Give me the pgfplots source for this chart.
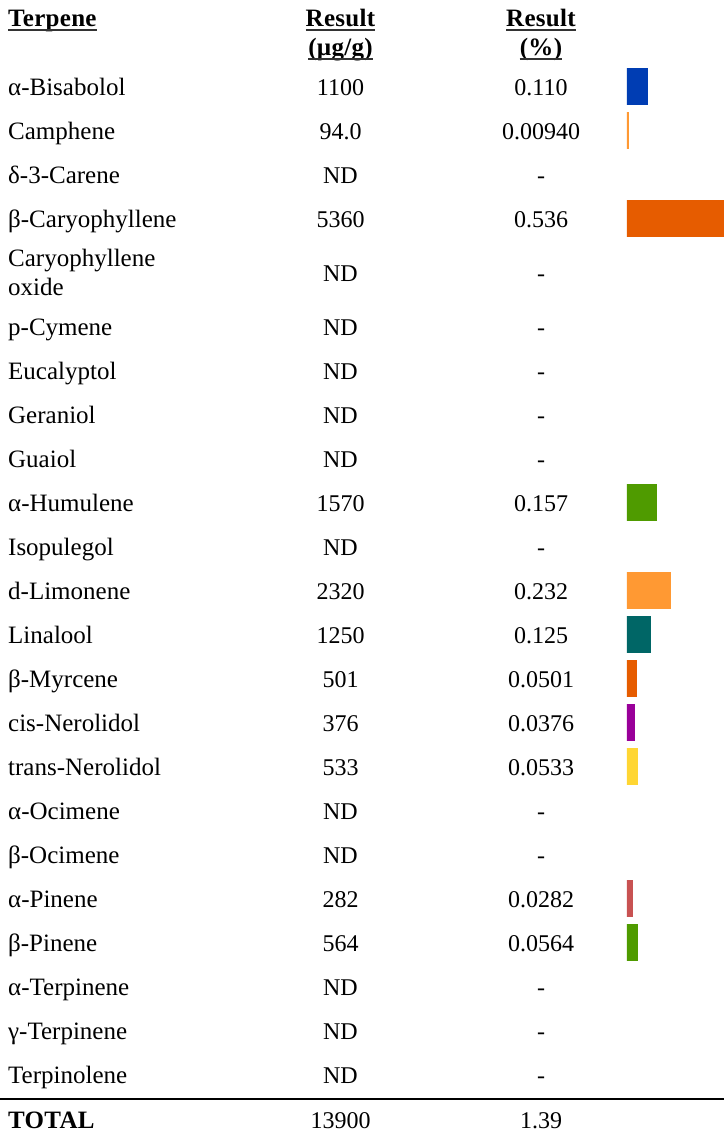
\documentclass[border=0pt]{standalone}
\usepackage{fontspec}
\setmainfont{Liberation Serif}
\newfontfamily\headfont[LetterSpace=1.2]{Liberation Serif}
\usepackage{pgfplots}
\pgfplotsset{compat=1.18}

\definecolor{cBlue}{RGB}{0,61,179}
\definecolor{cLtOrange}{RGB}{255,153,51}
\definecolor{cOrange}{RGB}{230,92,0}
\definecolor{cGreen}{RGB}{79,155,0}
\definecolor{cTeal}{RGB}{0,102,102}
\definecolor{cPurple}{RGB}{153,0,153}
\definecolor{cYellow}{RGB}{255,214,51}
\definecolor{cRed}{RGB}{200,82,82}

\newcommand{\tf}{\fontsize{24bp}{28bp}\selectfont}
\newcommand{\nf}{\fontsize{25bp}{28bp}\selectfont}

\begin{document}
\begin{tikzpicture}[x=1bp,y=-1bp]
  \path[use as bounding box] (0,0) rectangle (724,1132);

  % header
  \node[font=\nf\headfont\bfseries, anchor=base west, inner sep=0pt] (h1) at (8,26.7) {Terpene};
  \node[font=\nf\headfont\bfseries, anchor=base, inner sep=0pt] (h2) at (340.5,26.7) {Result};
  \node[font=\nf\headfont\bfseries, anchor=base, inner sep=0pt] (h3) at (340.5,55) {(µg/g)};
  \node[font=\nf\headfont\bfseries, anchor=base, inner sep=0pt] (h4) at (541,26.7) {Result};
  \node[font=\nf\headfont\bfseries, anchor=base, inner sep=0pt] (h5) at (541,55) {(\%)};
  \foreach \n/\d in {h1/3.5,h2/3.5,h3/4,h4/3.5,h5/4}
    \draw[line width=1.5bp, black!80] ([yshift=-\d bp]\n.base west) -- ([yshift=-\d bp]\n.base east);

  % rows: baseline, name, ug/g, %
  \foreach \y/\name/\ug/\pc in {
      95.7/α-Bisabolol/1100/0.110,
      139.7/Camphene/94.0/0.00940,
      183.7/δ-3-Carene/ND/-,
      227.7/β-Caryophyllene/5360/0.536,
      335.7/p-Cymene/ND/-,
      379.7/Eucalyptol/ND/-,
      423.7/Geraniol/ND/-,
      467.7/Guaiol/ND/-,
      511.7/α-Humulene/1570/0.157,
      555.7/Isopulegol/ND/-,
      599.7/d-Limonene/2320/0.232,
      643.7/Linalool/1250/0.125,
      687.7/β-Myrcene/501/0.0501,
      731.7/cis-Nerolidol/376/0.0376,
      775.7/trans-Nerolidol/533/0.0533,
      819.7/α-Ocimene/ND/-,
      863.7/β-Ocimene/ND/-,
      907.7/α-Pinene/282/0.0282,
      951.7/β-Pinene/564/0.0564,
      995.7/α-Terpinene/ND/-,
      1039.7/γ-Terpinene/ND/-,
      1083.7/Terpinolene/ND/-}{
    \node[font=\nf, anchor=base west, inner sep=0pt] at (8,\y) {\name};
    \node[font=\tf, anchor=base, inner sep=0pt] at (340.5,\y) {\ug};
    \node[font=\tf, anchor=base, inner sep=0pt] at (541,\y) {\pc};
  }
  \node[font=\nf, anchor=base west, inner sep=0pt] at (8,266.7) {Caryophyllene};
  \node[font=\nf, anchor=base west, inner sep=0pt] at (8,295) {oxide};
  \node[font=\tf, anchor=base, inner sep=0pt] at (340.5,281.7) {ND};
  \node[font=\tf, anchor=base, inner sep=0pt] at (541,281.7) {-};

  % total
  \draw[line width=2bp] (0,1099) -- (724,1099);
  \node[font=\nf\headfont\bfseries, anchor=base west, inner sep=0pt] at (8,1128.7) {TOTAL};
  \node[font=\tf, anchor=base, inner sep=0pt] at (340.5,1128.7) {13900};
  \node[font=\tf, anchor=base, inner sep=0pt] at (541,1128.7) {1.39};

  % bars (x: result in %, y: row centre in px from top)
  \begin{axis}[
      at={(626.85bp,0bp)}, anchor=north west,
      scale only axis, width=97.15bp, height=1132bp,
      xmin=0, xmax=0.5209, ymin=0, ymax=1132, y dir=reverse,
      hide axis, clip=true,
      xbar, bar shift=0pt, bar width=35bp,
      every axis plot/.append style={line width=1.7bp},
    ]
    \addplot[fill=cBlue, draw=cBlue] coordinates {(0.110,86.3)};
    \addplot[fill=cLtOrange, draw=cLtOrange] coordinates {(0.0094,130.3)};
    \addplot[fill=cOrange, draw=cOrange] coordinates {(0.536,218.3)};
    \addplot[fill=cGreen, draw=cGreen] coordinates {(0.157,502.3)};
    \addplot[fill=cLtOrange, draw=cLtOrange] coordinates {(0.232,590.3)};
    \addplot[fill=cTeal, draw=cTeal] coordinates {(0.125,634.3)};
    \addplot[fill=cOrange, draw=cOrange] coordinates {(0.0501,678.3)};
    \addplot[fill=cPurple, draw=cPurple] coordinates {(0.0376,722.3)};
    \addplot[fill=cYellow, draw=cYellow] coordinates {(0.0533,766.3)};
    \addplot[fill=cRed, draw=cRed] coordinates {(0.0282,898.3)};
    \addplot[fill=cGreen, draw=cGreen] coordinates {(0.0564,942.3)};
  \end{axis}
\end{tikzpicture}
\end{document}
